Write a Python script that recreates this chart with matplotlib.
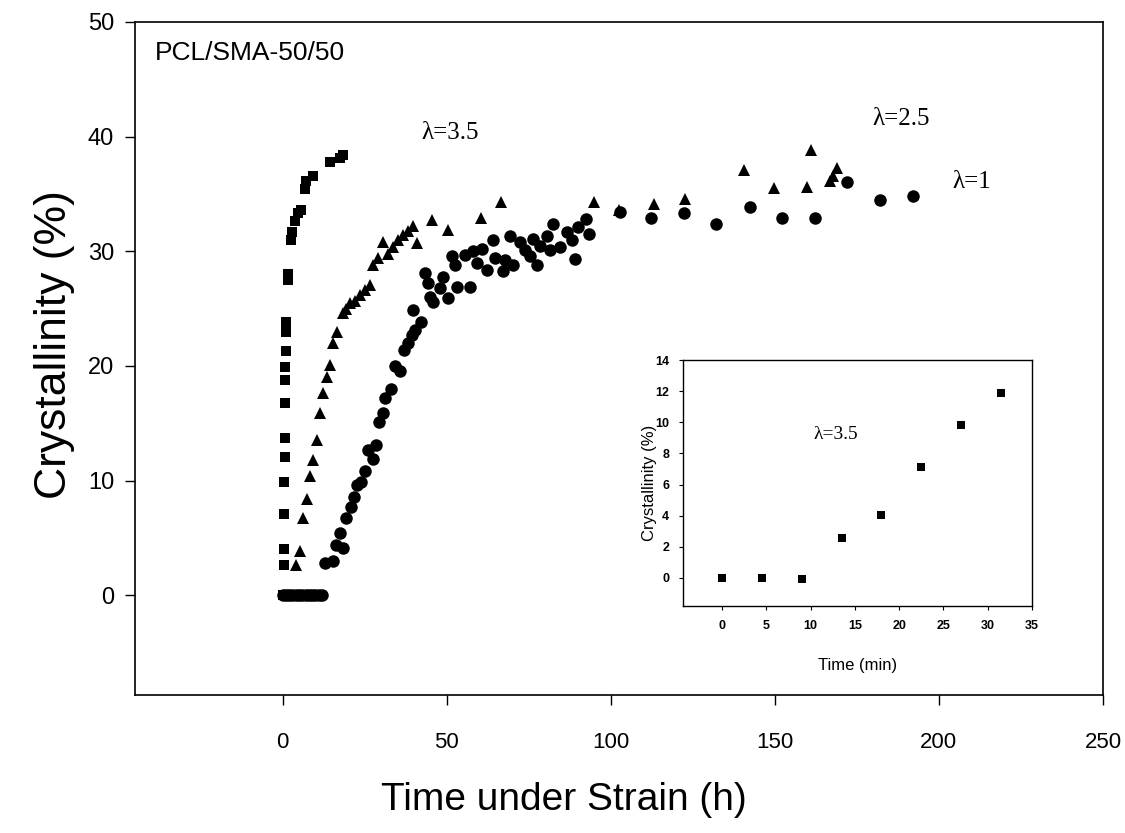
import numpy as np
import matplotlib.pyplot as plt

# lambda = 3.5 (squares)
h_35 = [0, 0.3, 0.4, 0.5, 0.5, 0.6, 0.6, 0.7, 0.7, 0.8, 0.9, 1.0, 1.1, 1.5, 1.7,
        2.5, 2.8, 3.7, 4.7, 5.7, 6.7, 7.2, 9.2, 14.3, 17.4, 18.3]
c_35 = [0, 2.6, 4.0, 7.1, 9.9, 12.1, 13.7, 16.8, 18.8, 19.9, 21.3, 23.0, 23.8, 27.5, 28.0,
        31.0, 31.7, 32.6, 33.3, 33.6, 35.4, 36.1, 36.6, 37.8, 38.1, 38.4]

# lambda = 2.5 (triangles)
h_25 = [4.2, 5.4, 6.2, 7.4, 8.4, 9.3, 10.5, 11.5, 12.3, 13.5, 14.3, 15.4, 16.6, 18.4,
        19.4, 20.5, 22.0, 23.5, 25.0, 26.6, 27.6, 29.1, 30.6, 32.1, 33.7, 35.2, 36.7,
        38.2, 39.8, 40.8, 45.4, 50.5, 60.3, 66.4, 94.9, 102.5, 113.3, 122.5, 140.5, 149.7,
        159.8, 160.9, 166.8, 167.8, 168.8]
c_25 = [2.6, 3.9, 6.7, 8.4, 10.4, 11.8, 13.5, 15.9, 17.6, 19.0, 20.1, 22.0, 23.0, 24.6,
        25.0, 25.5, 25.7, 26.2, 26.6, 27.1, 28.8, 29.4, 30.8, 29.8, 30.4, 31.0, 31.4,
        31.8, 32.2, 30.7, 32.7, 31.9, 32.9, 34.3, 34.3, 33.6, 34.1, 34.6, 37.1, 35.5,
        35.6, 38.8, 36.1, 36.6, 37.3]

# lambda = 1 (circles)
h_1 = [0, 1, 2, 3, 4, 5, 6, 7, 8, 9, 10, 11, 12,
       12.8, 15.4, 16.2, 17.4, 18.4, 19.4, 20.7, 21.7, 22.7, 24.0, 25.0, 26.0, 27.6,
       28.6, 29.4, 30.6, 31.1, 32.9, 34.2, 35.9, 36.9, 38.3, 39.3, 40.3, 42.3, 39.6,
       43.3, 44.4, 44.9, 45.9, 47.9, 48.9, 50.5, 51.5, 52.5, 53.1, 55.6, 57.1, 58.1,
       59.1, 60.7, 62.2, 64.2, 64.7, 67.2, 67.8, 69.3, 70.3, 72.3, 73.9, 75.4, 76.4,
       77.4, 78.4, 80.5, 81.5, 82.5, 84.6, 86.6, 88.1, 89.1, 90.1, 92.5, 93.5,
       102.9, 112.3, 122.4, 132.0, 142.3, 152.2, 162.2, 172.1, 182.2, 192.1]
c_1 = [0, 0, 0, 0, 0, 0, 0, 0, 0, 0, 0, 0, 0,
       2.8, 3.0, 4.4, 5.4, 4.1, 6.7, 7.7, 8.6, 9.6, 9.9, 10.8, 12.7, 11.9,
       13.1, 15.1, 15.9, 17.2, 18.0, 20.0, 19.6, 21.4, 22.0, 22.7, 23.1, 23.8, 24.9,
       28.1, 27.2, 26.0, 25.6, 26.8, 27.8, 25.9, 29.6, 28.8, 26.9, 29.7, 26.9, 30.0,
       29.0, 30.2, 28.4, 31.0, 29.4, 28.3, 29.2, 31.3, 28.8, 30.8, 30.1, 29.6, 31.1,
       28.8, 30.5, 31.3, 30.1, 32.4, 30.4, 31.7, 31.0, 29.3, 32.1, 32.8, 31.5,
       33.4, 32.9, 33.3, 32.4, 33.9, 32.9, 32.9, 36.0, 34.5, 34.8]

# inset: lambda = 3.5, first minutes
t_min = [0, 4.5, 9, 13.5, 18, 22.5, 27, 31.5]
c_min = [0, 0, -0.05, 2.6, 4.05, 7.1, 9.8, 11.9]

sans = ['Liberation Sans', 'DejaVu Sans']
serif = ['Liberation Serif', 'DejaVu Serif']

fig = plt.figure(figsize=(11.25, 8.33), dpi=100)
ax = fig.add_axes([0.12, 0.1657, 0.8604, 0.8079])

ax.plot(h_35, c_35, 's', color='black', ms=7, mew=0)
ax.plot(h_25, c_25, '^', color='black', ms=8, mew=0)
ax.plot(h_1, c_1, 'o', color='black', ms=9, mew=0)

ax.set_xlim(-45, 250)
ax.set_ylim(-8.7, 50)
ax.set_xticks([0, 50, 100, 150, 200, 250])
ax.set_yticks([0, 10, 20, 30, 40, 50])
ax.tick_params(axis='x', direction='out', length=7, width=1, pad=20)
ax.tick_params(axis='y', direction='out', length=7, width=1, pad=8)
for lab in ax.get_xticklabels():
    lab.set_family(sans)
    lab.set_fontsize(16)
for lab in ax.get_yticklabels():
    lab.set_family(sans)
    lab.set_fontsize(17)
for sp in ax.spines.values():
    sp.set_linewidth(1.2)

ax.set_xlabel('Time under Strain (h)', family=sans, fontsize=28)
ax.xaxis.set_label_coords(0.443, -0.13)
ax.set_ylabel('Crystallinity (%)', family=sans, fontsize=32)
ax.yaxis.set_label_coords(-0.062, 0.52)

ax.text(-39, 47.3, 'PCL/SMA-50/50', family=sans, fontsize=19, va='center')
ax.text(51, 40.3, 'λ=3.5', family=serif, fontsize=18, ha='center', va='center')
ax.text(188.5, 41.5, 'λ=2.5', family=serif, fontsize=18, ha='center', va='center')
ax.text(210, 36.0, 'λ=1', family=serif, fontsize=18, ha='center', va='center')

# inset
ins = fig.add_axes([0.6071, 0.2725, 0.3102, 0.2953])
ins.plot(t_min, c_min, 's', color='black', ms=5.5, mew=0)
ins.set_xlim(-4.4, 35)
ins.set_ylim(-1.8, 14)
ins.set_xticks([0, 5, 10, 15, 20, 25, 30, 35])
ins.set_yticks([0, 2, 4, 6, 8, 10, 12, 14])
ins.tick_params(direction='out', length=3, width=0.8, labelsize=9, pad=7)
for lab in ins.get_xticklabels() + ins.get_yticklabels():
    lab.set_family(sans)
    lab.set_fontweight('bold')
for sp in ins.spines.values():
    sp.set_linewidth(1.0)
ins.set_xlabel('Time (min)', family=sans, fontsize=12)
ins.xaxis.set_label_coords(0.5, -0.21)
ins.set_ylabel('Crystallinity (%)', family=sans, fontsize=12)
ins.yaxis.set_label_coords(-0.075, 0.5)
ins.text(12.8, 9.2, 'λ=3.5', family=serif, fontsize=14, ha='center', va='center')

fig.savefig('out.png', dpi=100)
